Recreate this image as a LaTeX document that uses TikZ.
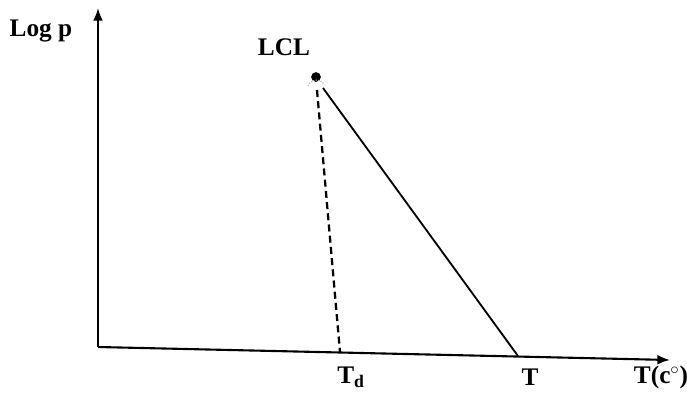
\documentclass[tikz,border=0pt]{standalone}
\usepackage{fontspec}
\setmainfont{Liberation Serif}
\usetikzlibrary{arrows,arrows.meta,positioning}
\tikzset{lbl/.style={font=\bfseries\fontsize{18}{20}\selectfont,inner sep=0pt},
  axis/.style={line width=1.5pt,-{Latex[length=9pt,width=7pt]}}}
\begin{document}
\begin{tikzpicture}[x=0.025cm,y=-0.025cm]
\useasboundingbox (0,0) rectangle (687,403);
\coordinate (O) at (98,347);
\coordinate (ytip) at (98,8);
\coordinate (xtip) at (670,360);
\coordinate (lcl) at (316,77);
\coordinate (td) at (340,352);
\coordinate (t) at (518,356);
\draw [axis] (O) -- (ytip);
\draw [axis] (O) -- (xtip);
\draw [fill] (lcl) circle [radius=4.5];
\draw [gray!60,densely dotted,line width=0.8pt] (308,86) arc [start angle=200,end angle=330,radius=9];
\draw [dash pattern=on 5pt off 3pt,line width=1.6pt] (317,90) -- (td);
\draw [line width=1.3pt] (323,88) -- (t);
\node [lbl] (logp) at (41,31) {Log p};
\node [lbl] (lcltxt) at (284,47) {LCL};
\node [lbl] (tdtxt) at (351,377) {T\textsubscript{d}};
\node [lbl] (ttxt) at (530,377) {T};
\node [lbl] (tctxt) at (661,377) {T(c$^{\circ}$)};
\end{tikzpicture}
\end{document}
